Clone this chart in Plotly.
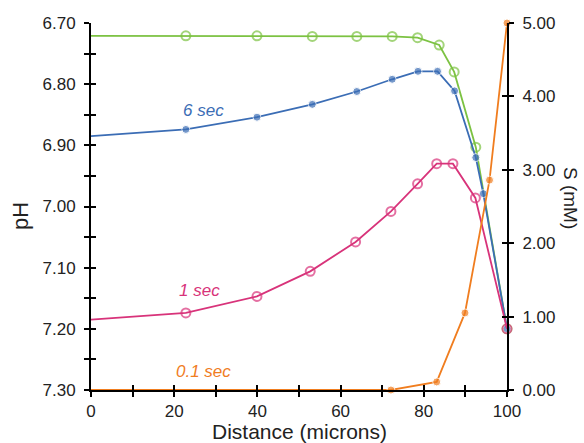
import plotly.graph_objects as go

# Distance (microns)
ss_x = [0, 22.8, 39.9, 53.2, 63.9, 72.4, 78.5, 83.7, 87.3, 92.5, 100]
ss_ph = [6.721, 6.721, 6.721, 6.722, 6.722, 6.722, 6.724, 6.736, 6.780, 6.903, 7.200]

s6_x = [0, 22.8, 39.9, 53.2, 63.9, 72.4, 78.6, 83.3, 87.4, 92.5, 94.3, 100]
s6_ph = [6.885, 6.874, 6.854, 6.833, 6.812, 6.792, 6.779, 6.779, 6.811, 6.920, 6.979, 7.200]

s1_x = [0, 22.8, 39.9, 52.7, 63.6, 72.1, 78.5, 83.1, 87.0, 92.4, 100]
s1_ph = [7.185, 7.174, 7.147, 7.106, 7.058, 7.008, 6.963, 6.930, 6.930, 6.986, 7.200]

s01_x = [0, 72.1, 83.1, 89.9, 95.8, 100]
s01_S = [0.0, 0.0, 0.11, 1.05, 2.86, 5.0]

ph_ticks = [6.70, 6.80, 6.90, 7.00, 7.10, 7.20, 7.30]
s_ticks = [0, 1, 2, 3, 4, 5]
x_ticks = [0, 20, 40, 60, 80, 100]

GREEN = "#7cc242"
BLUE = "#3b6db5"
PINK = "#d8337a"
ORANGE = "#f07d1f"
FONT = "Liberation Sans, Arial, sans-serif"

fig = go.Figure()

def sizes(n, s):
    return [0 if i == 0 else s for i in range(n)]

fig.add_trace(go.Scatter(x=ss_x, y=ss_ph, mode="lines+markers", cliponaxis=False,
                         line=dict(color=GREEN, width=1.8),
                         marker=dict(symbol="circle-open", size=sizes(len(ss_x), 9), color=GREEN,
                                     line=dict(width=2, color=GREEN)), showlegend=False))
fig.add_trace(go.Scatter(x=s6_x, y=s6_ph, mode="lines+markers", cliponaxis=False,
                         line=dict(color=BLUE, width=1.8),
                         marker=dict(symbol="circle", size=sizes(len(s6_x), 8), color=BLUE),
                         showlegend=False))
fig.add_trace(go.Scatter(x=s1_x, y=s1_ph, mode="lines+markers", cliponaxis=False,
                         line=dict(color=PINK, width=1.8),
                         marker=dict(symbol="circle-open", size=sizes(len(s1_x), 9), color=PINK,
                                     line=dict(width=2, color=PINK)), showlegend=False))
fig.add_trace(go.Scatter(x=s01_x, y=s01_S, mode="lines+markers", cliponaxis=False, yaxis="y2",
                         line=dict(color=ORANGE, width=1.8),
                         marker=dict(symbol="circle", size=sizes(len(s01_x), 8), color=ORANGE),
                         showlegend=False))
# empty traces so the inside-tick overlay axes get drawn
fig.add_trace(go.Scatter(x=[None], y=[None], xaxis="x2", yaxis="y3", showlegend=False, hoverinfo="skip"))
fig.add_trace(go.Scatter(x=[None], y=[None], xaxis="x2", yaxis="y4", showlegend=False, hoverinfo="skip"))

tickfont = dict(family=FONT, size=17, color="#222")
axis_common = dict(showgrid=False, zeroline=False, linecolor="black", linewidth=2,
                   tickcolor="black", tickwidth=2, ticklen=5, tickfont=tickfont)

fig.update_layout(
    width=584, height=443,
    margin=dict(l=91, r=77, t=23, b=53),
    paper_bgcolor="white", plot_bgcolor="white",
    xaxis=dict(range=[0, 100], tickvals=x_ticks, ticks="outside", showline=True,
               minor=dict(dtick=10, tick0=0, ticks="outside", ticklen=5, tickcolor="black", tickwidth=2),
               **axis_common),
    xaxis2=dict(range=[0, 100], overlaying="x", tickvals=x_ticks, ticks="inside", showline=False,
                showticklabels=False, anchor="y",
                minor=dict(dtick=10, tick0=0, ticks="inside", ticklen=5, tickcolor="black", tickwidth=2),
                **axis_common),
    yaxis=dict(range=[7.30, 6.70], tickvals=ph_ticks, tickformat=".2f", ticks="outside", showline=True,
               ticklabelstandoff=5,
               minor=dict(dtick=0.05, tick0=6.70, ticks="outside", ticklen=5, tickcolor="black", tickwidth=2),
               **axis_common),
    yaxis2=dict(range=[0, 5], tickvals=s_ticks, tickformat=".2f", ticks="outside", showline=True,
                ticklabelstandoff=5,
                overlaying="y", side="right", anchor="x", **axis_common),
    yaxis3=dict(range=[7.30, 6.70], tickvals=ph_ticks, ticks="inside", showline=False,
                showticklabels=False, overlaying="y", anchor="x",
                minor=dict(dtick=0.05, tick0=6.70, ticks="inside", ticklen=5, tickcolor="black", tickwidth=2),
                **axis_common),
    yaxis4=dict(range=[0, 5], tickvals=s_ticks, ticks="inside", showline=False, showticklabels=False,
                overlaying="y", side="right", anchor="x", **axis_common),
)

lab = dict(family=FONT, size=17)
fig.add_annotation(x=27, y=6.697, text="<i>Steady state</i>", showarrow=False,
                   font=dict(color=GREEN, **lab))
fig.add_annotation(x=27, y=6.843, text="<i>6 sec</i>", showarrow=False, font=dict(color=BLUE, **lab))
fig.add_annotation(x=26, y=7.137, text="<i>1 sec</i>", showarrow=False, font=dict(color=PINK, **lab))
fig.add_annotation(x=27, y=7.27, text="<i>0.1 sec</i>", showarrow=False, font=dict(color=ORANGE, **lab))

# axis titles placed by pixel-equivalent paper coords (plot area 91..507 x, 23..390 y)
fig.add_annotation(xref="paper", yref="paper", x=0.5, y=-0.112, yanchor="middle",
                   text="Distance (microns)", showarrow=False,
                   font=dict(family=FONT, size=21, color="#222"))
fig.add_annotation(xref="paper", yref="paper", x=(20 - 91) / 416, y=(390 - 216) / 367,
                   xanchor="center", yanchor="middle", text="pH", textangle=-90,
                   showarrow=False, font=dict(family=FONT, size=22, color="#222"))
fig.add_annotation(xref="paper", yref="paper", x=(571 - 91) / 416, y=(390 - 198) / 367,
                   xanchor="center", yanchor="middle", text="S (mM)", textangle=90,
                   showarrow=False, font=dict(family=FONT, size=19, color="#222"))

fig.write_html("out.html", config={"displayModeBar": False},
               post_script="document.body.style.margin='0';")
